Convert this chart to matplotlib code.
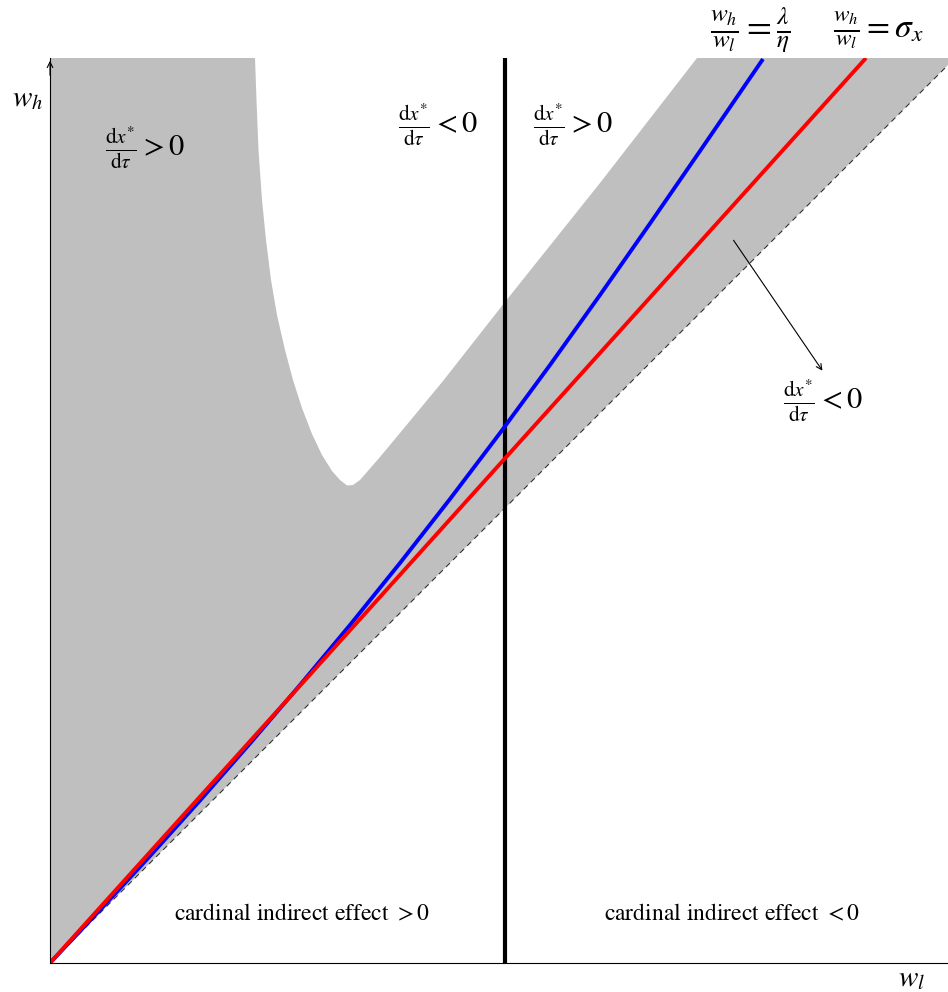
import numpy as np
import matplotlib
matplotlib.use('Agg')
import matplotlib.pyplot as plt

plt.rcParams['font.family'] = 'STIXGeneral'
plt.rcParams['mathtext.fontset'] = 'stix'

# limits of the diagram (w_l, w_h)
x_max = 8.98
y_max = 9.05
tau_line_x = 4.55   # vertical line: cardinal indirect effect changes sign

# red ray  w_h / w_l = sigma_x
red_x = [0.0, 8.16]
red_y = [0.0, 9.05]

# blue curve  w_h / w_l = lambda / eta
blue_x = [0.0, 0.5, 1.0, 1.5, 2.0, 2.5, 3.0, 3.5, 4.0, 4.5, 5.0, 5.5, 6.0, 6.5, 7.13]
blue_y = [0.0, 0.53, 1.07, 1.625, 2.195, 2.78, 3.38, 4.00, 4.64, 5.30, 5.98, 6.68, 7.395, 8.12, 9.04]

# dashed 45 degree line (lower edge of the gray area)
diag_x = [0.0, 8.98]
diag_y = [0.0, 8.98]

# white pocket inside the gray area, from its top-left to its top-right end
hole_x = [2.05, 2.065, 2.085, 2.12, 2.16, 2.21, 2.27, 2.35, 2.43, 2.52, 2.62, 2.72,
          2.82, 2.90, 2.97, 3.03, 3.10, 3.30, 3.50, 3.93, 4.55, 5.50, 6.47]
hole_y = [9.05, 8.63, 8.13, 7.63, 7.23, 6.83, 6.48, 6.13, 5.83, 5.55, 5.29, 5.08,
          4.92, 4.83, 4.775, 4.78, 4.83, 5.06, 5.30, 5.82, 6.61, 7.80, 9.05]

fig = plt.figure(figsize=(9.48, 9.92), dpi=100)
ax = fig.add_axes([50 / 948, 29 / 992, 898 / 948, 905 / 992])
ax.set_xlim(0, x_max)
ax.set_ylim(0, y_max)

# gray region dx*/dtau > 0
gx = np.concatenate([[0.0, 0.0], hole_x, [x_max, diag_x[1]], [diag_x[0]]])
gy = np.concatenate([[0.0, y_max], hole_y, [y_max, diag_y[1]], [diag_y[0]]])
ax.fill(gx, gy, color='#bfbfbf', lw=0, zorder=1)

ax.plot(diag_x, diag_y, color='#333333', lw=0.8, ls=(0, (5, 4)), zorder=2)
ax.axvline(tau_line_x, color='black', lw=3, zorder=3)
ax.plot(blue_x, blue_y, color='blue', lw=2.8, zorder=4, solid_capstyle='butt')
ax.plot(red_x, red_y, color='red', lw=2.8, zorder=5, solid_capstyle='butt')

# axes
for s in ['top', 'right']:
    ax.spines[s].set_visible(False)
for s in ['left', 'bottom']:
    ax.spines[s].set_linewidth(0.8)
    ax.spines[s].set_zorder(6)
ax.set_xticks([])
ax.set_yticks([])
ax.annotate('', xy=(0, y_max), xytext=(0, y_max - 0.2),
            arrowprops=dict(arrowstyle='->', lw=0.8, color='black'),
            annotation_clip=False)

ax.text(-0.22, 8.63, r'$w_h$', fontsize=21, ha='center', va='center', clip_on=False)
ax.text(8.62, -0.17, r'$w_l$', fontsize=21, ha='center', va='center', clip_on=False)

frac = r'\frac{\mathrm{d}x^{*}}{\mathrm{d}\tau}'
ax.text(0.95, 8.15, '$' + frac + ' > 0$', fontsize=22, ha='center', va='center')
ax.text(3.88, 8.38, '$' + frac + ' < 0$', fontsize=22, ha='center', va='center')
ax.text(5.23, 8.38, '$' + frac + ' > 0$', fontsize=22, ha='center', va='center')
ax.text(7.73, 5.62, '$' + frac + ' < 0$', fontsize=22, ha='center', va='center')
ax.annotate('', xy=(7.74, 5.90), xytext=(6.82, 7.25),
            arrowprops=dict(arrowstyle='->', lw=0.8, color='black'))

ax.text(7.0, 9.33, r'$\frac{w_h}{w_l} = \frac{\lambda}{\eta}$', fontsize=26,
        ha='center', va='center', clip_on=False)
ax.text(8.28, 9.33, r'$\frac{w_h}{w_l} = \sigma_x$', fontsize=24,
        ha='center', va='center', clip_on=False)

ax.text(2.52, 0.48, r'cardinal indirect effect $> 0$', fontsize=17, ha='center', va='center')
ax.text(6.82, 0.48, r'cardinal indirect effect $< 0$', fontsize=17, ha='center', va='center')

fig.savefig('out.png', dpi=100)
